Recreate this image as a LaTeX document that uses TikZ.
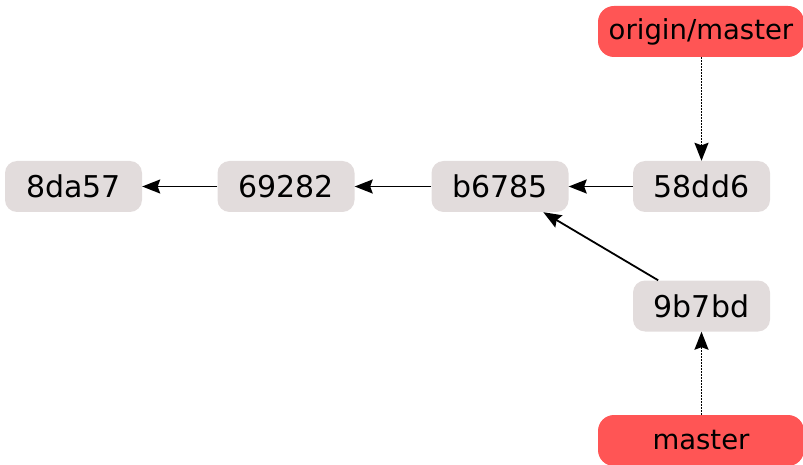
\documentclass[tikz,border=0pt]{standalone}
\usepackage{fontspec}
\setmainfont{DejaVu Sans}
\usetikzlibrary{arrows.meta}
\definecolor{commitgray}{HTML}{E2DCDC}
\definecolor{refred}{HTML}{FF5555}
\tikzset{
  commit/.style={rectangle, rounded corners=12pt, fill=commitgray, draw=none,
    minimum width=137pt, minimum height=51pt, inner sep=0pt, font=\fontsize{30}{30}\selectfont},
  refbox/.style={rectangle, rounded corners=16pt, fill=refred, draw=none,
    minimum width=206pt, minimum height=51pt, inner sep=0pt, font=\fontsize{27.5}{27.5}\selectfont},
  parent/.style={-{Stealth[length=18pt,width=14pt,inset=2.5pt]}, line width=1.8pt},
  pointer/.style={-{Stealth[length=18pt,width=14pt,inset=2.5pt]}, line width=1.8pt, dash pattern=on 1.6pt off 1.4pt},
}
\begin{document}
\begin{tikzpicture}[x=1pt,y=-1pt]
\useasboundingbox (0,0) rectangle (803,465);
\node[commit] (c8da) at (73.5,186.5) {8da57};
\node[commit] (c692) at (286,186.5) {69282};
\node[commit] (cb67) at (500,186.5) {b6785};
\node[commit] (c58d) at (701.5,186.5) {58dd6};
\node[commit] (c9b7) at (701.5,306) {9b7bd};
\node[refbox] (om) at (701,31.5) {origin/master};
\node[refbox] (m) at (701,440.5) {master};
\draw[parent] (c692) -- (c8da);
\draw[parent] (cb67) -- (c692);
\draw[parent] (c58d) -- (cb67);
\draw[parent] (c9b7) -- (cb67);
\draw[pointer] (om.south -| c58d.north) -- (c58d.north);
\draw[pointer] (m.north -| c9b7.south) -- (c9b7.south);
\end{tikzpicture}
\end{document}
